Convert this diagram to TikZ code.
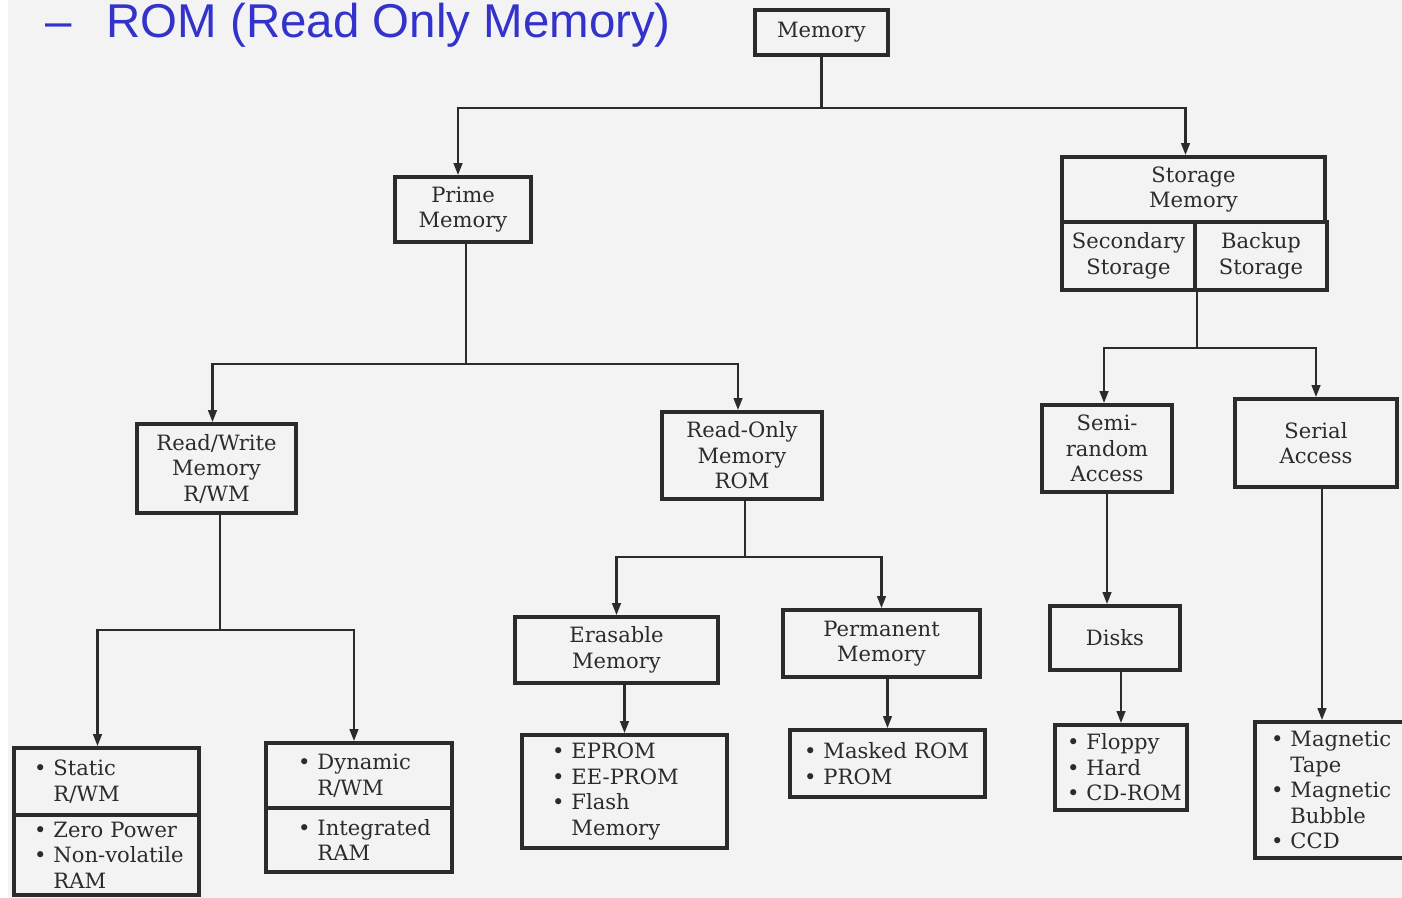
\documentclass[tikz,border=0pt]{standalone}
\usepackage{fontspec}
\setmainfont{DejaVu Serif}
\newfontfamily\titlefont{Liberation Sans}
\usepackage{tikz}
\usetikzlibrary{arrows.meta,positioning}
\definecolor{encre}{HTML}{2B2B2B}
\definecolor{papier}{HTML}{F3F3F3}
\definecolor{titre}{HTML}{3333CC}
\newcommand{\puce}[1]{\mbox{\textbullet\ #1}}
\newcommand{\suite}[1]{\mbox{\phantom{\textbullet\ }#1}}

\begin{document}
\begin{tikzpicture}[x=0.02cm,y=-0.02cm,
  bloc/.style={draw=encre,line width=2.1pt,align=center,inner sep=0pt,text=encre,font=\fontsize{12}{14.5}\selectfont},
  liste/.style={draw=encre,line width=2.1pt,align=left,inner ysep=0pt,text=encre,font=\fontsize{12}{14.5}\selectfont},
  lien/.style={draw=encre,line width=1.4pt},
  fleche/.style={lien,-{Triangle[length=2.4mm,width=1.7mm]}}]
  \useasboundingbox (0,0) rectangle (1402,898);
  \fill[white] (0,0) rectangle (1402,898);
  \fill[papier] (8,0) rectangle (1402,898);
  \node[anchor=base west,inner sep=0pt,text=titre,font=\titlefont\fontsize{27}{30}\selectfont] (titre) at (45,38) {–\hspace{0.7cm}ROM (Read Only Memory)};
  \node[bloc,minimum width=2.66cm,minimum height=0.9cm] (mem) at (821.5,32.5) {Memory};
  \node[bloc,minimum width=2.72cm,minimum height=1.3cm] (prime) at (463,209.5) {Prime\\Memory};
  \node[bloc,minimum width=5.26cm,minimum height=1.3cm] (stor) at (1193.5,189.5) {Storage\\Memory};
  \node[bloc,minimum width=2.66cm,minimum height=1.36cm] (sec) at (1128.5,256) {Secondary\\Storage};
  \node[bloc,minimum width=2.64cm,minimum height=1.36cm] (bak) at (1261,256) {Backup\\Storage};
  \node[bloc,minimum width=3.18cm,minimum height=1.78cm] (rwm) at (216.5,468.5) {Read/Write\\Memory\\R/WM};
  \node[bloc,minimum width=3.2cm,minimum height=1.74cm] (rom) at (742,455.5) {Read-Only\\Memory\\ROM};
  \node[bloc,minimum width=2.6cm,minimum height=1.74cm] (semi) at (1107,448.5) {Semi-\\random\\Access};
  \node[bloc,minimum width=3.24cm,minimum height=1.76cm] (serial) at (1316,443) {Serial\\Access};
  \node[bloc,minimum width=4.06cm,minimum height=1.32cm] (eras) at (616.5,650) {Erasable\\Memory};
  \node[bloc,minimum width=3.94cm,minimum height=1.34cm] (perm) at (881.5,643.5) {Permanent\\Memory};
  \node[bloc,minimum width=2.6cm,minimum height=1.28cm] (disks) at (1115,638) {Disks};
  \node[liste,inner xsep=0.4cm,text width=2.9cm,minimum height=1.34cm] (statA) at (106.5,781.5) {\puce{Static}\\\suite{R/WM}};
  \node[liste,inner xsep=0.4cm,text width=2.9cm,minimum height=1.6cm] (statB) at (106.5,855) {\puce{Zero Power}\\\puce{Non-volatile}\\\suite{RAM}};
  \node[liste,inner xsep=0.64cm,text width=2.44cm,minimum height=1.3cm] (dynA) at (359,775.5) {\puce{Dynamic}\\\suite{R/WM}};
  \node[liste,inner xsep=0.64cm,text width=2.44cm,minimum height=1.28cm] (dynB) at (359,840) {\puce{Integrated}\\\suite{RAM}};
  \node[liste,inner xsep=0.6cm,text width=2.9cm,minimum height=2.26cm] (eprom) at (624.5,791.5) {\puce{EPROM}\\\puce{EE-PROM}\\\puce{Flash}\\\suite{Memory}};
  \node[liste,inner xsep=0.28cm,text width=3.34cm,minimum height=1.34cm] (mask) at (887.5,763.5) {\puce{Masked ROM}\\\puce{PROM}};
  \node[liste,inner xsep=0.24cm,text width=2.16cm,minimum height=1.7cm] (flop) at (1121,767.5) {\puce{Floppy}\\\puce{Hard}\\\puce{CD-ROM}};
  \node[liste,inner xsep=0.32cm,text width=2.46cm,minimum height=2.72cm] (tape) at (1332.5,790) {\puce{Magnetic}\\\suite{Tape}\\\puce{Magnetic}\\\suite{Bubble}\\\puce{CCD}};
  \draw[fleche] (mem.south) -- ++(0,51) -| ([xshift=-0.1cm]prime.north);
  \draw[fleche] (mem.south) -- ++(0,51) -| ([xshift=-0.16cm]stor.north);
  \draw[fleche] ([xshift=0.06cm]prime.south) -- ++(0,120) -| ([xshift=-0.08cm]rwm.north);
  \draw[fleche] ([xshift=0.06cm]prime.south) -- ++(0,120) -| ([xshift=-0.08cm]rom.north);
  \draw[fleche] (sec.south east) -- ++(0,56) -| ([xshift=-0.06cm]semi.north);
  \draw[fleche] (sec.south east) -- ++(0,56) -| (serial.north);
  \draw[fleche] ([xshift=0.07cm]rwm.south) -- ++(0,115) -| ([xshift=-0.18cm]statA.north);
  \draw[fleche] ([xshift=0.07cm]rwm.south) -- ++(0,115) -| ([xshift=-0.1cm]dynA.north);
  \draw[fleche] ([xshift=0.06cm]rom.south) -- ++(0,56) -| (eras.north);
  \draw[fleche] ([xshift=0.06cm]rom.south) -- ++(0,56) -| (perm.north);
  \draw[fleche] (semi.south) -- (semi.south |- disks.north);
  \draw[fleche] (flop.north |- disks.south) -- (flop.north);
  \draw[fleche] ([xshift=0.12cm]serial.south) -- ([xshift=0.12cm]serial.south |- tape.north);
  \draw[fleche] (eprom.north |- eras.south) -- (eprom.north);
  \draw[fleche] (mask.north |- perm.south) -- (mask.north);
\end{tikzpicture}
\end{document}
